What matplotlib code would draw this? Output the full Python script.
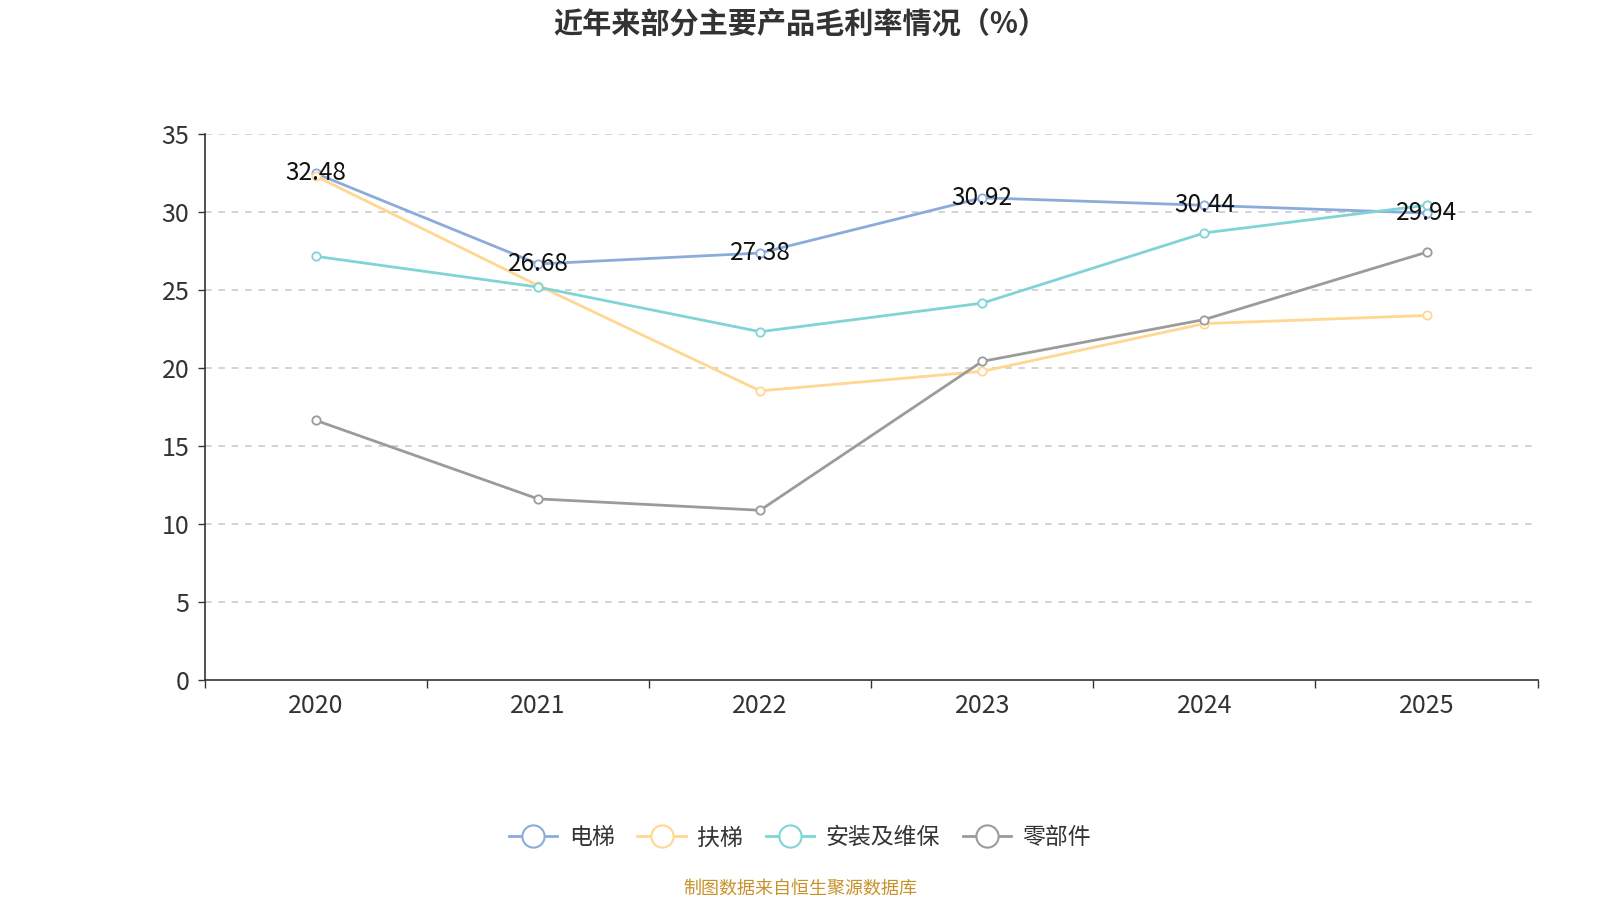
import matplotlib
matplotlib.use("Agg")
import matplotlib.pyplot as plt
from matplotlib.lines import Line2D

plt.rcParams['font.family'] = ['Noto Sans CJK SC', 'DejaVu Sans']

years = ["2020", "2021", "2022", "2023", "2024", "2025"]
names = ["电梯", "扶梯", "安装及维保", "零部件"]
elevator = [32.48, 26.68, 27.38, 30.92, 30.44, 29.94]
escalator = [32.3, 25.3, 18.55, 19.8, 22.86, 23.38]
install = [27.17, 25.2, 22.34, 24.17, 28.67, 30.44]
parts = [16.66, 11.63, 10.9, 20.44, 23.12, 27.43]
colors = ["#8BACDB", "#FFD791", "#80D4D6", "#9B9B9B"]

fig = plt.figure(figsize=(16, 9), dpi=100)
ax = fig.add_axes([0.128, 0.244, 0.833, 0.607])

x = list(range(len(years)))
series = [elevator, escalator, install, parts]
for vals, c in zip(series, colors):
    ax.plot(x, vals, color=c, lw=2.0, marker='o', ms=6,
            mfc='white', mec=c, mew=1.3, zorder=3)

# labels on the first series
for xi, v in zip(x, elevator):
    ax.annotate("%.2f" % v, (xi, v), xytext=(0, 0), textcoords='offset points',
                ha='center', va='center', fontsize=17.5, color='#111111', zorder=5)

ax.set_xlim(-0.5, len(years) - 0.5)
ax.set_ylim(0, 35)
ax.set_yticks(range(0, 36, 5))
ax.tick_params(axis='y', labelsize=18, colors='#333333', length=5, width=1, pad=6)
ax.set_xticks([i - 0.5 for i in range(len(years) + 1)])
ax.set_xticklabels([])
ax.set_xticks(x, minor=True)
ax.set_xticklabels(years, minor=True)
ax.tick_params(axis='x', which='major', length=6, width=1, color='#333333')
ax.tick_params(axis='x', which='minor', length=0, labelsize=18,
               labelcolor='#333333', pad=9)

for y in range(5, 36, 5):
    ax.axhline(y, color='#cccccc', lw=1.2, ls=(0, (4, 4)), zorder=1)

for s in ['top', 'right']:
    ax.spines[s].set_visible(False)
for s in ['left', 'bottom']:
    ax.spines[s].set_color('#333333')
    ax.spines[s].set_linewidth(1.2)

fig.text(0.5, 0.974, "近年来部分主要产品毛利率情况（%）", ha='center', va='center',
         fontsize=21, fontweight='bold', color='#333333')

handles = [Line2D([0], [0], color=c, lw=2, marker='o', ms=16, mfc='white',
                  mec=c, mew=1.5) for c in colors]
fig.legend(handles, names, loc='center', bbox_to_anchor=(0.5, 0.069), ncol=4,
           frameon=False, fontsize=16.5, handlelength=2.1, columnspacing=1.0,
           handletextpad=0.5, labelcolor='#333333')

fig.text(0.5, 0.0125, "制图数据来自恒生聚源数据库", ha='center', va='center',
         fontsize=13, color='#C8922A')

fig.savefig("out.png", dpi=100)
